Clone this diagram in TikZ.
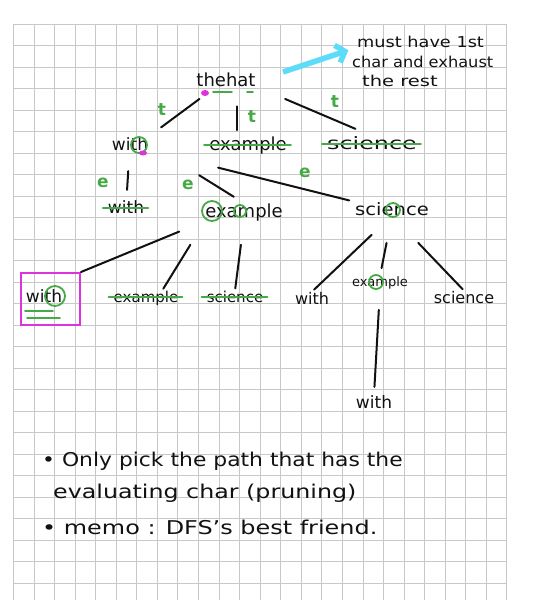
\documentclass[tikz,border=0pt]{standalone}
\usepackage{fontspec}
\setmainfont{DejaVu Sans}
\usetikzlibrary{positioning,arrows.meta,fit,calc}
\definecolor{ink}{HTML}{111111}
\definecolor{pen}{HTML}{45AA45}
\definecolor{hilite}{HTML}{DD33DD}
\definecolor{marker}{HTML}{5CDCF8}
\definecolor{paper}{HTML}{C8C8C8}
\newcommand{\hw}[2]{\scalebox{#1}[1]{#2}}
\tikzset{
  word/.style    = {text=ink, inner sep=0pt, anchor=base, font=\fontsize{17}{20}\selectfont},
  fbig/.style    = {font=\fontsize{18}{21}\selectfont},
  fmid/.style    = {font=\fontsize{16}{19}\selectfont},
  fsmall/.style  = {font=\fontsize{15}{18}\selectfont},
  ftiny/.style   = {font=\fontsize{13}{16}\selectfont},
  notetext/.style= {text=ink, inner sep=0pt, anchor=base west, font=\fontsize{19}{22}\selectfont},
  sidetext/.style= {text=ink, inner sep=0pt, anchor=base west, font=\fontsize{15}{18}\selectfont},
  letter/.style  = {text=pen, inner sep=0pt, font=\fontsize{17}{20}\selectfont\bfseries},
  edge/.style    = {draw=ink, line width=2pt, line cap=round},
  strike/.style  = {draw=pen, line width=1.8pt, line cap=round},
  ring/.style    = {draw=pen, line width=1.8pt},
  blob/.style    = {fill=hilite},
  pickbox/.style = {draw=hilite, line width=2pt, minimum width=59pt,
                    minimum height=52pt, inner sep=0pt},
  pointer/.style = {draw=marker, line width=5.5pt,
                    -{Straight Barb[length=8pt,width=18pt]}},
  gridline/.style= {draw=paper, line width=0.6pt},
}
\begin{document}
\begin{tikzpicture}[x=1pt,y=-1pt]
  \useasboundingbox (0,0) rectangle (540,600);
  % grid paper
  \foreach \i in {0,...,24}
    \draw[gridline] ({13.3+20.56*\i},24) -- ({13.3+20.56*\i},600);
  \foreach \j in {0,...,26}
    \draw[gridline] (13.3,{24+21.5*\j}) -- (506.7,{24+21.5*\j});

  % side note
  \node[sidetext] (side1) at (357,47) {\hw{1.18}{must have 1st}};
  \node[sidetext] (side2) at (352,67) {\hw{1.08}{char and exhaust}};
  \node[sidetext] (side3) at (362,86) {\hw{1.3}{the rest}};
  \coordinate (tail) at (283,72);
  \draw[pointer, shorten >=9pt] (tail) -- (side1.south west);

  % level 0 and 1
  \node[word,fbig] (root) at (226,86) {thehat};
  \node[word] (w1) at (130,150) {with};
  \node[word,fbig] (ex1) at (248,150) {example};
  \node[word] (sc1) at (372,149) {\hw{1.4}{science}};
  \draw[edge, shorten <=21pt, shorten >=16pt] (root) -- (w1.north east);
  \draw[edge, shorten <=20pt, shorten >=6pt] ([xshift=11pt]root.south) -- ([xshift=-11pt]ex1.north);
  \draw[edge, shorten <=32pt, shorten >=18pt] (root.south east) -- (sc1.north);
  \node[letter] (lt1) at (162,110) {t};
  \node[letter] (lt2) at (252,117) {t};
  \node[letter] (lt3) at (335,102) {t};

  % level 2
  \node[word] (w2) at (126,213) {with};
  \node[word,fbig] (ex2) at (244,217) {example};
  \node[word] (sc2) at (392,215) {\hw{1.15}{science}};
  \draw[edge, shorten <=21pt, shorten >=10pt] (w1) -- (w2);
  \draw[edge, shorten <=60pt, shorten >=12pt] (w1.east) -- (ex2.north);
  \draw[edge, shorten <=72pt, shorten >=6pt] (w1.south east) -- (sc2.north west);
  \node[letter] (le1) at (103,183) {e};
  \node[letter] (le2) at (188,185) {e};
  \node[letter] (le3) at (305,173) {e};

  % level 3
  \node[pickbox] (pick) at (50.5,299) {};
  \node[word] (w3) at (44,302) {with};
  \node[word,fsmall] (ex3) at (146,302) {example};
  \node[word,fsmall] (sc3) at (235,302) {science};
  \node[word,fmid] (wr3) at (312,304) {with};
  \node[word,ftiny] (exr3) at (380,286) {example};
  \node[word,fmid] (scr3) at (464,303) {science};
  \node[word] (w4) at (374,408) {with};
  \draw[edge, shorten <=28pt] (ex2.south west) -- (pick.north east);
  \draw[edge, shorten <=28pt, shorten >=2pt] (ex2.south west) -- ($(ex3.north)!.5!(ex3.north east)$);
  \draw[edge, shorten <=24pt, shorten >=2pt] (ex2.south) -- (sc3.north);
  \draw[edge, shorten <=28pt, shorten >=3pt] (sc2.south) -- (wr3.north);
  \draw[edge, shorten <=28pt, shorten >=8pt] (sc2.south) -- (exr3.north);
  \draw[edge, shorten <=38pt, shorten >=2pt] (sc2.south) -- (scr3.north);
  \draw[edge, shorten <=21pt, shorten >=8pt] (exr3.south) -- (w4.north);

  % crossed-out words
  \foreach \n in {ex1,sc1,w2,ex3,sc3}
    \draw[strike] ([xshift=-5pt,yshift=5pt]\n.base west) -- ([xshift=4pt,yshift=5pt]\n.base east);

  % marked letters
  \draw[ring] (139,145) circle[radius=8pt];
  \draw[ring] (212,211) circle[radius=10pt];
  \draw[ring] (240,211) circle[radius=6pt];
  \draw[ring] (393,210) circle[radius=7pt];
  \draw[ring] (55,296) circle[radius=10pt];
  \draw[ring] (376,282) circle[radius=7pt];
  \fill[blob] (205,93) ellipse[x radius=4pt, y radius=3pt];
  \fill[blob] (143,153) ellipse[x radius=4pt, y radius=2.5pt];
  \draw[strike] (213,92) -- (232,92);
  \draw[strike] (247,92) -- (253,92);
  \draw[strike] (25,311) -- (53,311);
  \draw[strike] (27,318) -- (60,318);

  % notes
  \node[notetext] (line1) at (42,466) {\hw{1.15}{• Only pick the path that has the}};
  \node[notetext] (line2) at (53,498) {\hw{1.25}{evaluating char (pruning)}};
  \node[notetext] (line3) at (42,534) {\hw{1.26}{• memo : DFS's best friend.}};
\end{tikzpicture}
\end{document}
